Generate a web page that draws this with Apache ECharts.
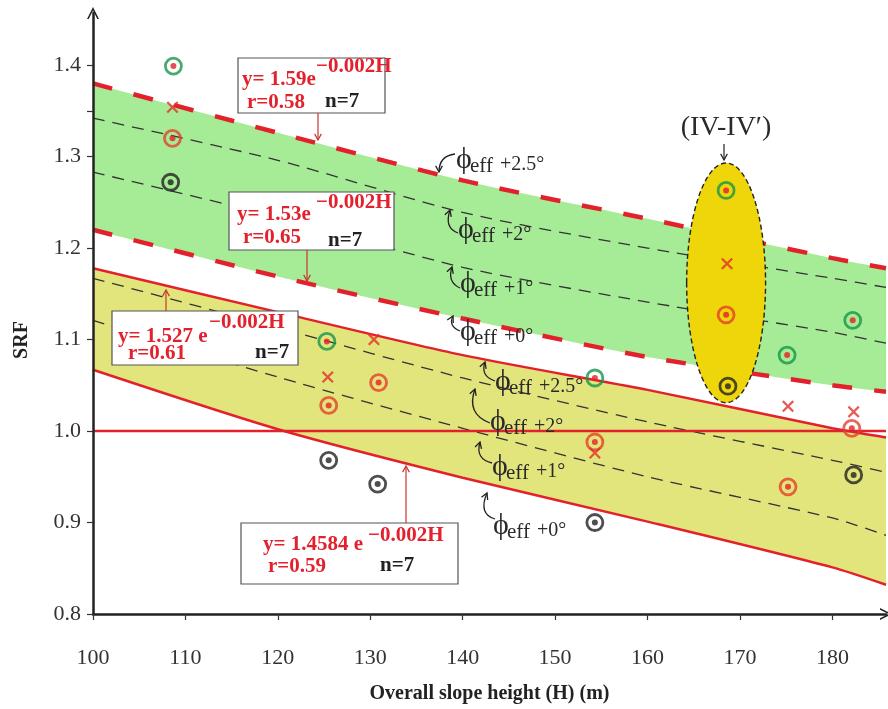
<!DOCTYPE html>
<html>
<head>
<meta charset="utf-8">
<script src="https://cdn.jsdelivr.net/npm/echarts@6/dist/echarts.min.js"></script>
<style>
  html, body { margin: 0; padding: 0; background: #fff; }
  #chart { width: 888px; height: 709px; }
</style>
</head>
<body>
<div id="chart"></div>
<script>
// Overall slope height (m) at which each SRF curve is sampled
const heights = [100, 120, 140, 160, 180, 185.8];

// Upper (green) band: φeff + 2.5°, +2°, +1°, +0°
const greenPhi25 = [1.380, 1.326, 1.274, 1.232, 1.189, 1.178];
const greenPhi2  = [1.342, 1.296, 1.239, 1.200, 1.167, 1.157];
const greenPhi1  = [1.283, 1.234, 1.179, 1.141, 1.108, 1.096];
const greenPhi0  = [1.220, 1.169, 1.123, 1.081, 1.050, 1.043];

// Lower (yellow) band: φeff + 2.5°, +2°, +1°, +0°
const yellowPhi25 = [1.178, 1.130, 1.083, 1.045, 1.003, 0.993];
const yellowPhi2  = [1.167, 1.113, 1.058, 1.010, 0.968, 0.955];
const yellowPhi1  = [1.121, 1.059, 1.003, 0.950, 0.905, 0.886];
const yellowPhi0  = [1.067, 1.002, 0.949, 0.901, 0.851, 0.832];

// Limit equilibrium line
const srfLimit = 1.0;

// Observed SRF values per section [H, SRF]
const ringGreen = [[108.7, 1.399], [125.3, 1.098], [130.5, 1.228], [154.3, 1.058], [168.5, 1.263], [175.1, 1.083], [182.2, 1.121]];
const ringRed   = [[108.6, 1.320], [125.5, 1.028], [130.9, 1.053], [154.3, 0.988], [168.5, 1.127], [175.2, 0.939], [182.1, 1.003]];
const ringBlack = [[108.4, 1.272], [125.5, 0.968], [130.8, 0.942], [154.3, 0.900], [168.7, 1.049], [182.3, 0.952]];
const crossRed  = [[108.6, 1.354], [125.4, 1.059], [130.4, 1.100], [154.3, 0.976], [168.6, 1.183], [175.2, 1.027], [182.3, 1.021]];

// Section (IV-IV') highlight: centre H, centre SRF, half-width H, half-height SRF
const sectionIV = [168.5, 1.162, 4.27, 0.131];

// Axis ticks
const xTicks = [100, 110, 120, 130, 140, 150, 160, 170, 180];
const yTicks = [0.8, 0.9, 1.0, 1.1, 1.2, 1.3, 1.4];
const yTickMarks = [0.8, 0.9, 1.0, 1.1, 1.2, 1.3, 1.35, 1.4];

const SERIF = '"Liberation Serif", "DejaVu Serif", serif';
const RED = '#e3212d';
const SMOOTH = 0.25;
const GREEN_FILL = '#a6eb96';
const YELLOW_FILL = '#e2e57c';

const pairs = ys => heights.map((h, i) => [h, ys[i]]);

// area filled from a curve down to the bottom of the y range
function fillDown(ys, color, z) {
  return { type: 'line', data: pairs(ys), smooth: SMOOTH, symbol: 'none', silent: true, z: z,
    lineStyle: { opacity: 0, width: 0 }, areaStyle: { color: color, opacity: 1, origin: 'start' } };
}

function curve(ys, color, width, dash) {
  return { type: 'line', data: pairs(ys), smooth: SMOOTH, symbol: 'none', silent: true, z: 6,
    lineStyle: { color: color, width: width, type: dash || 'solid' } };
}

// ---------- annotation helpers (pixel space) ----------
function txt(text, x, y, size, color, bold, align) {
  return { type: 'text', x: x, y: y, z: 100,
    style: { text: text, font: (bold ? 'bold ' : '') + size + 'px ' + SERIF,
             fill: color, align: align || 'left', verticalAlign: 'middle' } };
}
function box(x1, y1, x2, y2) {
  return { type: 'rect', z: 99, shape: { x: x1, y: y1, width: x2 - x1, height: y2 - y1 },
    style: { fill: '#fff', stroke: '#555', lineWidth: 1.2 } };
}
function head(px, py, ex, ey, color, w) {
  const a = Math.atan2(ey - py, ex - px), L = 7, s = 0.5;
  return { type: 'polyline', z: 100, shape: { points: [
      [ex - L * Math.cos(a - s), ey - L * Math.sin(a - s)], [ex, ey],
      [ex - L * Math.cos(a + s), ey - L * Math.sin(a + s)]] },
    style: { stroke: color, lineWidth: w, fill: null } };
}
function arrow(x1, y1, x2, y2, color, w) {
  return [
    { type: 'line', z: 100, shape: { x1: x1, y1: y1, x2: x2, y2: y2 }, style: { stroke: color, lineWidth: w } },
    head(x1, y1, x2, y2, color, w)
  ];
}
function hook(sx, sy, cx, cy, ex, ey) {
  return [
    { type: 'bezierCurve', z: 100, shape: { x1: sx, y1: sy, x2: ex, y2: ey, cpx1: cx, cpy1: cy },
      style: { stroke: '#222', lineWidth: 1.3, fill: null } },
    head(cx, cy, ex, ey, '#222', 1.3)
  ];
}
function phi(x, y, suffix) {
  return [
    txt('ϕ', x, y, 30, '#2a2a2a', false),
    txt('eff', x + 14, y + 6, 21, '#2a2a2a', false),
    txt(suffix, x + 44, y + 5, 20, '#2a2a2a', false)
  ];
}

const graphics = [].concat(
  // equation boxes
  box(238, 58, 385, 113),
  txt('y= 1.59e', 242, 80, 21, RED, true),
  txt('−0.002H', 316, 67, 21, RED, true),
  txt('r=0.58', 247, 103, 21, RED, true),
  txt('n=7', 325, 102, 21, '#222', true),
  arrow(318, 113, 318, 140, '#c8352c', 1.2),

  box(229, 192, 394, 250),
  txt('y= 1.53e', 237, 215, 21, RED, true),
  txt('−0.002H', 316, 203, 21, RED, true),
  txt('r=0.65', 243, 238, 21, RED, true),
  txt('n=7', 328, 241, 21, '#222', true),
  arrow(307, 250, 307, 281, '#c8352c', 1.2),

  box(112, 311, 298, 365),
  txt('y= 1.527 e', 118, 337, 21, RED, true),
  txt('−0.002H', 209, 323, 21, RED, true),
  txt('r=0.61', 128, 354, 21, RED, true),
  txt('n=7', 255, 353, 21, '#222', true),
  arrow(166, 311, 166, 290, '#c8352c', 1.2),

  box(241, 523, 458, 584),
  txt('y= 1.4584 e', 263, 545, 21, RED, true),
  txt('−0.002H', 368, 536, 21, RED, true),
  txt('r=0.59', 268, 567, 21, RED, true),
  txt('n=7', 380, 566, 21, '#222', true),
  arrow(406, 523, 406, 466, '#c8352c', 1.2),

  // ϕ labels, upper band
  phi(456, 160, '+2.5°'), hook(455, 154, 439, 156, 439, 172),
  phi(458, 230, '+2°'),   hook(458, 233, 444, 228, 450, 210),
  phi(460, 284, '+1°'),   hook(460, 288, 447, 282, 452, 267),
  phi(460, 332, '+0°'),   hook(460, 331, 448, 326, 453, 316),
  // ϕ labels, lower band
  phi(495, 382, '+2.5°'), hook(495, 381, 480, 376, 485, 362),
  phi(490, 422, '+2°'),   hook(490, 423, 466, 414, 475, 389),
  phi(492, 467, '+1°'),   hook(492, 463, 475, 459, 480, 442),
  phi(493, 526, '+0°'),   hook(495, 519, 478, 514, 487, 493),

  // section label
  txt('(IV-IV′)', 726, 128, 28, '#2a2a2a', false, 'center'),
  arrow(724, 144, 724, 160, '#222', 1.2),

  // y-axis title
  { type: 'text', x: 22, y: 340, rotation: Math.PI / 2, z: 100,
    style: { text: 'SRF', font: 'bold 20px ' + SERIF, fill: '#222', align: 'center', verticalAlign: 'middle' } }
);

const chart = echarts.init(document.getElementById('chart'), null, { renderer: 'canvas' });

const axisArrow = 'path://M0,10 L5,0 L10,10 L8.6,10 L5,3 L1.4,10 Z';

chart.setOption({
  animation: false,
  backgroundColor: '#fff',
  grid: { left: 93, right: 2, top: 13, bottom: 95, outerBoundsMode: 'none' },
  xAxis: {
    type: 'value', min: 100, max: 185.8, z: 20,
    name: 'Overall slope height (H) (m)', nameLocation: 'middle', nameGap: 70,
    nameTextStyle: { fontFamily: SERIF, fontWeight: 'bold', fontSize: 20, color: '#222' },
    axisLine: { lineStyle: { color: '#222', width: 2.5 }, symbol: ['none', axisArrow], symbolSize: [12, 12] },
    axisTick: { customValues: xTicks, length: 6, lineStyle: { color: '#333', width: 1.2 } },
    axisLabel: { customValues: xTicks, fontFamily: SERIF, fontSize: 22, color: '#333', margin: 33 },
    splitLine: { show: false }
  },
  yAxis: {
    type: 'value', min: 0.8, max: 1.457, z: 20,
    axisLine: { lineStyle: { color: '#222', width: 2.5 }, symbol: ['none', axisArrow], symbolSize: [12, 12] },
    axisTick: { customValues: yTickMarks, length: 6, lineStyle: { color: '#333', width: 1.2 } },
    axisLabel: { customValues: yTicks, formatter: v => v.toFixed(1), fontFamily: SERIF, fontSize: 22, color: '#333', margin: 12 },
    splitLine: { show: false }
  },
  graphic: graphics,
  series: [
    // bands: each upper curve filled downward, then whitened below its lower curve
    fillDown(greenPhi25, GREEN_FILL, 1),
    fillDown(greenPhi0, '#ffffff', 2),
    fillDown(yellowPhi25, YELLOW_FILL, 3),
    fillDown(yellowPhi0, '#ffffff', 4),
    curve(greenPhi2, '#333', 1.3, [12, 8]),
    curve(greenPhi1, '#333', 1.3, [12, 8]),
    curve(greenPhi25, RED, 4.5, [20, 22]),
    curve(greenPhi0, RED, 4.5, [20, 22]),
    curve(yellowPhi2, '#333', 1.3, [12, 8]),
    curve(yellowPhi1, '#333', 1.3, [12, 8]),
    curve(yellowPhi25, RED, 2.5),
    curve(yellowPhi0, RED, 2.5),
    { type: 'line', data: [[100, srfLimit], [185.8, srfLimit]], symbol: 'none', silent: true, z: 6,
      lineStyle: { color: RED, width: 2.5 } },
    {
      type: 'custom', data: [sectionIV], encode: { x: 0, y: 1 }, silent: true, z: 7,
      renderItem: (params, api) => {
        const c = api.coord([api.value(0), api.value(1)]);
        const s = api.size([api.value(2), api.value(3)]);
        return { type: 'ellipse', shape: { cx: c[0], cy: c[1], rx: s[0], ry: s[1] },
          style: { fill: '#efd60b', stroke: '#222', lineWidth: 1.4, lineDash: [5, 3] } };
      }
    },
    { type: 'scatter', data: ringGreen, symbol: 'circle', symbolSize: 16, silent: true, z: 8,
      itemStyle: { color: 'rgba(0,0,0,0)', borderColor: '#17964a', borderWidth: 2.8 } },
    { type: 'scatter', data: ringRed, symbol: 'circle', symbolSize: 16, silent: true, z: 8,
      itemStyle: { color: 'rgba(0,0,0,0)', borderColor: '#e5402c', borderWidth: 2.8 } },
    { type: 'scatter', data: ringBlack, symbol: 'circle', symbolSize: 16, silent: true, z: 8,
      itemStyle: { color: 'rgba(0,0,0,0)', borderColor: '#222', borderWidth: 2.8 } },
    { type: 'scatter', data: ringGreen.concat(ringRed), symbol: 'circle', symbolSize: 6, silent: true, z: 9,
      itemStyle: { color: '#e3202b' } },
    { type: 'scatter', data: ringBlack, symbol: 'circle', symbolSize: 6, silent: true, z: 9,
      itemStyle: { color: '#222' } },
    { type: 'scatter', data: crossRed, silent: true, z: 9, symbolSize: 12,
      symbol: 'path://M0,1.3L1.3,0L5,3.7L8.7,0L10,1.3L6.3,5L10,8.7L8.7,10L5,6.3L1.3,10L0,8.7L3.7,5Z',
      itemStyle: { color: '#e2302a' } }
  ]
});
</script>
</body>
</html>
